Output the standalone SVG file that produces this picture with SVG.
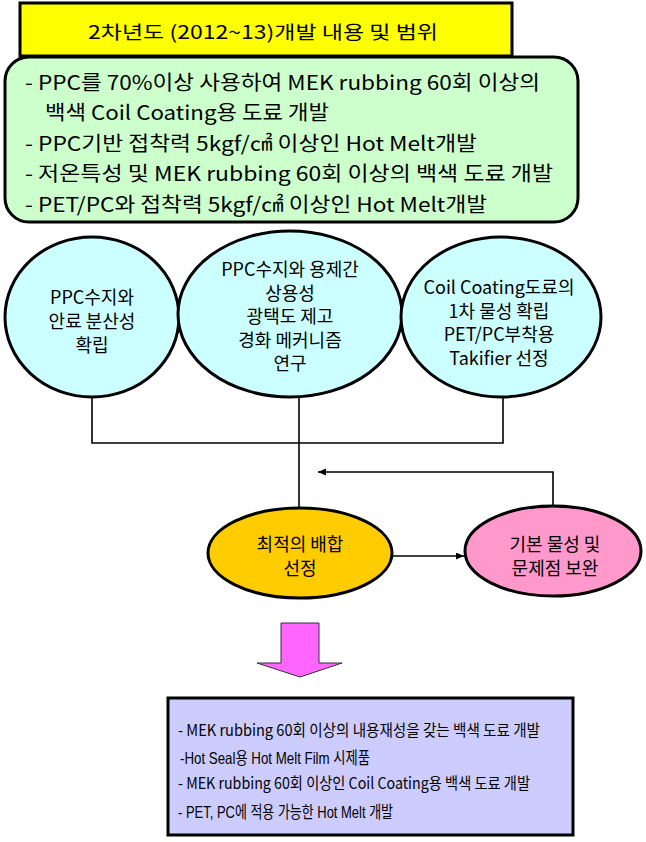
<svg xmlns="http://www.w3.org/2000/svg" width="646" height="842" viewBox="0 0 646 842">
<style>
.t{font-family:"Noto Sans CJK KR","Liberation Sans",sans-serif;fill:#000}
.a{font-family:"Liberation Sans","Noto Sans CJK KR",sans-serif;fill:#000}
.big{font-size:20px}
.mid{font-size:18px;text-anchor:middle}
.sm{font-size:16px}
.box{stroke:#000;stroke-width:3}
.ln{stroke:#000;stroke-width:1.6;fill:none}
</style>
<defs>
<marker id="ah" markerUnits="userSpaceOnUse" markerWidth="9" markerHeight="8" refX="8" refY="3.5" orient="auto">
<path d="M0,0 L8,3.5 L0,7 z" fill="#000"/>
</marker>
</defs>
<g id="title">
<rect x="20" y="3" width="492" height="53" fill="#FFFF00" class="box"/>
<text class="t" x="263" y="39" font-size="18.5" text-anchor="middle" textLength="350" lengthAdjust="spacingAndGlyphs">2차년도 (2012~13)개발 내용 및 범위</text>
</g>
<g id="goals">
<rect x="5" y="57" width="573" height="165" rx="24" fill="#CCFFCC" class="box"/>
<text class="t big" x="25" y="89.5" textLength="515" lengthAdjust="spacingAndGlyphs">- PPC를 70%이상 사용하여 MEK rubbing 60회 이상의</text>
<text class="t big" x="45" y="120" textLength="284" lengthAdjust="spacingAndGlyphs">백색 Coil Coating용 도료 개발</text>
<text class="t big" x="25" y="150.5" textLength="452" lengthAdjust="spacingAndGlyphs">- PPC기반 접착력 5kgf/㎠ 이상인 Hot Melt개발</text>
<text class="t big" x="25" y="181" textLength="528" lengthAdjust="spacingAndGlyphs">- 저온특성 및 MEK rubbing 60회 이상의 백색 도료 개발</text>
<text class="t big" x="25" y="211.5" textLength="462" lengthAdjust="spacingAndGlyphs">- PET/PC와 접착력 5kgf/㎠ 이상인 Hot Melt개발</text>
</g>
<g id="connectors">
<polyline class="ln" points="92,396 92,443 503,443 503,396"/>
<line class="ln" x1="299" y1="396" x2="299" y2="508"/>
<line class="ln" x1="392" y1="556" x2="464" y2="556" marker-end="url(#ah)"/>
<polyline class="ln" points="553,506 553,472 318,472" marker-end="url(#ah)"/>
</g>
<g id="c1">
<ellipse cx="92" cy="317" rx="87" ry="80" fill="#CCFFFF" class="box"/>
<text class="t mid" x="92" y="304">PPC수지와</text>
<text class="t mid" x="92" y="328">안료 분산성</text>
<text class="t mid" x="92" y="352">확립</text>
</g>
<g id="c2">
<ellipse cx="290" cy="314" rx="112" ry="83" fill="#CCFFFF" class="box"/>
<text class="t mid" x="290" y="276">PPC수지와 용제간</text>
<text class="t mid" x="290" y="299.5">상용성</text>
<text class="t mid" x="290" y="323">광택도 제고</text>
<text class="t mid" x="290" y="346.5">경화 메커니즘</text>
<text class="t mid" x="290" y="370">연구</text>
</g>
<g id="c3">
<ellipse cx="501" cy="317" rx="100" ry="80" fill="#CCFFFF" class="box"/>
<text class="t mid" x="499" y="294">Coil Coating도료의</text>
<text class="t mid" x="499" y="317.5">1차 물성 확립</text>
<text class="t mid" x="499" y="341">PET/PC부착용</text>
<text class="t mid" x="499" y="364.5">Takifier 선정</text>
</g>
<g id="optimal">
<ellipse cx="300" cy="553" rx="92" ry="45" fill="#FFCC00" class="box"/>
<text class="t mid" x="300" y="551">최적의 배합</text>
<text class="t mid" x="300" y="575">선정</text>
</g>
<g id="improve">
<ellipse cx="553" cy="551" rx="88" ry="45" fill="#FF99CC" class="box"/>
<text class="t mid" x="555" y="551">기본 물성 및</text>
<text class="t mid" x="555" y="575">문제점 보완</text>
</g>
<g id="downArrow">
<polygon points="281,623 319,623 319,663 342,663 300,677 257,663 281,663" fill="#FF66FF" stroke="#333" stroke-width="1"/>
</g>
<g id="results">
<rect x="168" y="698" width="405" height="137" fill="#CCCCFF" class="box"/>
<text class="t sm" x="178" y="736" textLength="362" lengthAdjust="spacingAndGlyphs">- MEK rubbing 60회 이상의 내용재성을 갖는 백색 도료 개발</text>
<text class="a" font-size="16.5" x="180" y="764" textLength="190" lengthAdjust="spacingAndGlyphs">-Hot Seal용 Hot Melt Film 시제품</text>
<text class="t sm" x="178" y="789" textLength="352" lengthAdjust="spacingAndGlyphs">- MEK rubbing 60회 이상인 Coil Coating용 백색 도료 개발</text>
<text class="a" font-size="16.5" x="178" y="818" textLength="215" lengthAdjust="spacingAndGlyphs">- PET, PC에 적용 가능한 Hot Melt 개발</text>
</g>
</svg>
